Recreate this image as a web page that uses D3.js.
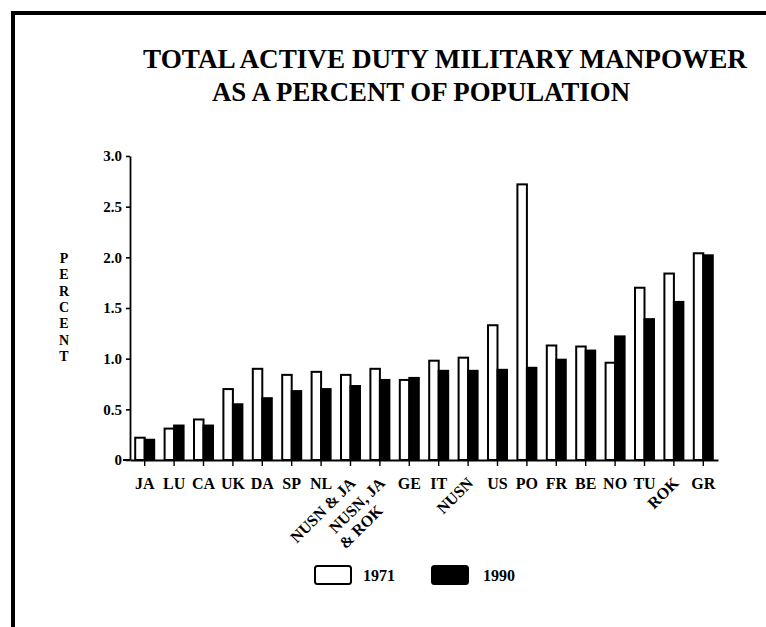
<!DOCTYPE html>
<html>
<head>
<meta charset="utf-8">
<script src="https://cdn.jsdelivr.net/npm/d3@7"></script>
<style>
  html, body { margin: 0; padding: 0; background: #fff; }
  svg { display: block; }
  text { font-family: "Liberation Serif", "Times New Roman", serif; font-weight: bold; fill: #000; }
</style>
</head>
<body>
<script>
// ---- data ----
const titleLines = ["TOTAL ACTIVE DUTY MILITARY MANPOWER", "AS A PERCENT OF POPULATION"];
const yAxisLabel = "PERCENT";
const categories = ["JA","LU","CA","UK","DA","SP","NL","NUSN & JA","NUSN, JA & ROK","GE","IT","NUSN","US","PO","FR","BE","NO","TU","ROK","GR"];
const categoryLabelLines = [["JA"],["LU"],["CA"],["UK"],["DA"],["SP"],["NL"],["NUSN & JA"],["NUSN, JA","& ROK"],["GE"],["IT"],["NUSN"],["US"],["PO"],["FR"],["BE"],["NO"],["TU"],["ROK"],["GR"]];
const rotatedCategories = ["NUSN & JA","NUSN, JA & ROK","NUSN","ROK"];
const seriesNames = ["1971","1990"];
const values1971 = [0.22,0.31,0.40,0.70,0.90,0.84,0.87,0.84,0.90,0.79,0.98,1.01,1.33,2.72,1.13,1.12,0.96,1.70,1.84,2.04];
const values1990 = [0.20,0.34,0.34,0.55,0.61,0.68,0.70,0.73,0.79,0.81,0.88,0.88,0.89,0.91,0.99,1.08,1.22,1.39,1.56,2.02];
const yTicks = [0,0.5,1.0,1.5,2.0,2.5,3.0];

// ---- drawing ----
const W = 766, H = 627;
const svg = d3.select("body").append("svg").attr("width", W).attr("height", H);

// frame
svg.append("path").attr("d", `M13,${H} V13 H${W}`)
  .attr("fill","none").attr("stroke","#000").attr("stroke-width",4);

// title
svg.append("text").attr("x",143).attr("y",68).attr("font-size",27)
  .attr("textLength",604).attr("lengthAdjust","spacingAndGlyphs").text(titleLines[0]);
svg.append("text").attr("x",212).attr("y",101).attr("font-size",27)
  .attr("textLength",418).attr("lengthAdjust","spacingAndGlyphs").text(titleLines[1]);

const x = d3.scaleBand().domain(categories).range([130,718]).paddingInner(0.354).paddingOuter(0.177);
const xs = d3.scaleBand().domain(seriesNames).range([0, x.bandwidth()]);
const y = d3.scaleLinear().domain([0,3]).range([460,156]);

const rows = categories.map((c,i) => ({cat:c, v:[values1971[i], values1990[i]]}));

// bars
const g = svg.append("g");
const grp = g.selectAll("g.cat").data(rows).join("g").attr("class","cat")
  .attr("transform", d => `translate(${x(d.cat)},0)`);
grp.selectAll("rect").data(d => seriesNames.map((s,j)=>({s, v:d.v[j]}))).join("rect")
  .attr("x", d => xs(d.s))
  .attr("y", d => y(d.v))
  .attr("width", xs.bandwidth())
  .attr("height", d => y(0) - y(d.v))
  .attr("fill", d => d.s === "1971" ? "#fff" : "#000")
  .attr("stroke", "#000").attr("stroke-width", 2);

// y axis
const yAxis = svg.append("g").attr("transform","translate(130,0)")
  .call(d3.axisLeft(y).tickValues(yTicks).tickSize(4).tickSizeOuter(0).tickPadding(4)
    .tickFormat(d => d === 0 ? "0" : d.toFixed(1)));
yAxis.selectAll("text").attr("font-size",15).style("font-family","Liberation Serif").style("font-weight","bold");
yAxis.select(".domain").attr("stroke-width",1.8);
yAxis.selectAll(".tick line").attr("stroke-width",1.6);

// x axis
const xAxis = svg.append("g").attr("transform","translate(0,460)")
  .call(d3.axisBottom(x).tickSize(6).tickSizeOuter(0).tickFormat(""));
xAxis.select(".domain").attr("stroke-width",2);
xAxis.selectAll(".tick line").attr("stroke-width",1.4);
svg.append("line").attr("x1",123).attr("x2",130).attr("y1",460).attr("y2",460)
  .attr("stroke","#000").attr("stroke-width",2);

// x labels
categories.forEach((c,i) => {
  const cx = x(c) + x.bandwidth()/2;
  const lines = categoryLabelLines[i];
  if (rotatedCategories.includes(c)) {
    const lg = svg.append("g").attr("transform", `translate(${cx+6},484) rotate(-45)`);
    lines.forEach((ln,k) => {
      lg.append("text").attr("x", k === 0 ? 0 : -21).attr("y", k*18)
        .attr("text-anchor","end").attr("font-size",16).text(ln);
    });
  } else {
    svg.append("text").attr("x",cx).attr("y",489).attr("text-anchor","middle")
      .attr("font-size",16).text(lines[0]);
  }
});

// y axis label, stacked letters
yAxisLabel.split("").forEach((ch,i) => {
  svg.append("text").attr("x",64).attr("y",263 + i*16.3).attr("text-anchor","middle")
    .attr("font-size",14).text(ch);
});

// legend
const legend = svg.append("g");
const legendItems = [
  {name: seriesNames[0], fill:"#fff", bx:315, tx:363},
  {name: seriesNames[1], fill:"#000", bx:432, tx:483}
];
legendItems.forEach(it => {
  legend.append("rect").attr("x",it.bx).attr("y",566).attr("width",36).attr("height",18)
    .attr("rx",2.5).attr("fill",it.fill).attr("stroke","#000").attr("stroke-width",2);
  legend.append("text").attr("x",it.tx).attr("y",581).attr("font-size",16).text(it.name);
});
</script>
</body>
</html>
